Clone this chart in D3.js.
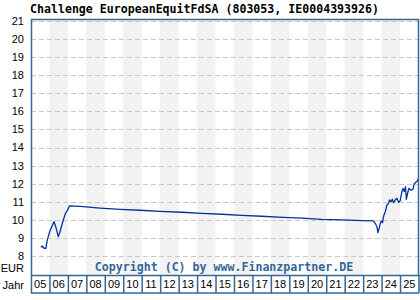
<!DOCTYPE html>
<html><head><meta charset="utf-8">
<script src="https://cdn.jsdelivr.net/npm/d3@7"></script>
<style>body{margin:0;background:#fff}svg{display:block}</style>
</head><body>
<svg id="c" width="420" height="300"></svg>
<script>
const title = "Challenge EuropeanEquitFdSA (803053, IE0004393926)";
const yearLabels = ["05","06","07","08","09","10","11","12","13","14","15","16","17","18","19","20","21","22","23","24","25"];
const yTicks = [8,9,10,11,12,13,14,15,16,17,18,19,20,21];
const dates = [2005.54,2005.61,2005.70,2005.81,2005.88,2006.03,2006.25,2006.34,2006.48,2006.57,2006.75,2006.88,2006.97,2007.08,2007.66,2008.74,2009.83,2010.91,2012.00,2013.17,2014.26,2015.34,2016.43,2017.51,2018.68,2019.68,2020.76,2021.85,2022.93,2023.56,2023.65,2023.75,2023.80,2023.87,2023.93,2023.98,2024.05,2024.11,2024.20,2024.29,2024.38,2024.43,2024.51,2024.58,2024.65,2024.74,2024.83,2024.92,2025.01,2025.10,2025.16,2025.23,2025.30,2025.34,2025.41,2025.48,2025.59,2025.70,2025.76,2025.83,2025.95,2026.00];
const values = [8.48,8.55,8.43,8.43,8.88,9.40,9.90,9.62,9.07,9.34,9.99,10.39,10.51,10.77,10.74,10.65,10.58,10.53,10.47,10.42,10.36,10.31,10.25,10.20,10.14,10.10,10.03,10.00,9.96,9.94,9.81,9.62,9.29,9.53,9.81,9.94,9.84,10.21,10.45,10.82,10.91,11.10,11.00,11.14,10.95,11.10,11.19,10.97,11.06,11.56,11.74,11.56,11.83,11.14,11.47,11.74,11.65,11.69,11.98,12.05,12.16,12.30];
const copyright = "Copyright (C) by www.Finanzpartner.DE";

const svg = d3.select("#c");
const L = 31, R = 418.5, T = 19, B = 275, BB = 293;
const x = d3.scaleLinear().domain([2005, 2026]).range([L, R]);
const y = d3.scaleLinear().domain([8, 21]).range([256, 21]);
const border = "#336699";

// shaded year bands
const band = d3.scaleBand().domain(yearLabels).range([L, R]).padding(0);
svg.append("g").selectAll("rect").data(yearLabels.filter((d,i)=>i%2===1)).join("rect")
  .attr("x", d=>band(d)).attr("y", T).attr("width", band.bandwidth()).attr("height", B-T)
  .attr("fill", "#f2f2f2");

// grid
svg.append("g").selectAll("line").data(yTicks).join("line")
  .attr("x1", L).attr("x2", R).attr("y1", d=>Math.round(y(d))+0.5).attr("y2", d=>Math.round(y(d))+0.5)
  .attr("stroke", "#c8c8c8").attr("stroke-dasharray", "5,3");

// y labels
svg.append("g").selectAll("text").data(yTicks).join("text")
  .attr("x", 24).attr("y", d=>y(d)).attr("dy", "0.36em").attr("text-anchor", "end")
  .attr("font-family", "Liberation Sans, Arial, sans-serif").attr("font-size", 11).attr("fill", "#000")
  .text(d=>d);
svg.append("text").attr("x", 24).attr("y", 268).attr("dy","0.36em").attr("text-anchor","end")
  .attr("font-family", "Liberation Sans, Arial, sans-serif").attr("font-size", 11).text("EUR");
svg.append("text").attr("x", 24).attr("y", 285).attr("dy","0.36em").attr("text-anchor","end")
  .attr("font-family", "Liberation Sans, Arial, sans-serif").attr("font-size", 11).text("Jahr");

// copyright
svg.append("text").attr("x", 224).attr("y", 271).attr("text-anchor","middle")
  .attr("font-family", "DejaVu Sans Mono, monospace").attr("font-weight","bold").attr("font-size", 11.6)
  .attr("fill", "#336699").text(copyright);

// line
svg.append("path").datum(dates.map((d,i)=>[d, values[i]]))
  .attr("d", d3.line().x(d=>x(d[0])).y(d=>y(d[1])))
  .attr("fill","none").attr("stroke","#003399").attr("stroke-width",1.3).attr("stroke-linejoin","round");

// plot border
svg.append("rect").attr("x", L+0.5).attr("y", T+0.5).attr("width", R-L-0.5).attr("height", B-T)
  .attr("fill","none").attr("stroke", border).attr("stroke-width", 1.5);

// year label boxes
svg.append("line").attr("x1", L).attr("x2", R+0.5).attr("y1", BB).attr("y2", BB).attr("stroke", border).attr("stroke-width",1.5);
svg.append("g").selectAll("line").data(yearLabels.concat(["end"])).join("line")
  .attr("x1", (d,i)=>L+0.5+i*band.bandwidth()).attr("x2",(d,i)=>L+0.5+i*band.bandwidth())
  .attr("y1", B).attr("y2", BB).attr("stroke", border).attr("stroke-width",1.5);
svg.append("g").selectAll("text").data(yearLabels).join("text")
  .attr("x", d=>band(d)+band.bandwidth()/2).attr("y", 284).attr("dy","0.36em").attr("text-anchor","middle")
  .attr("font-family", "Liberation Sans, Arial, sans-serif").attr("font-size", 11).text(d=>d);

// title
svg.append("text").attr("x", 30).attr("y", 13)
  .attr("font-family", "DejaVu Sans Mono, monospace").attr("font-weight","bold").attr("font-size", 11.6)
  .attr("fill","#000").text(title);
</script>
</body></html>
